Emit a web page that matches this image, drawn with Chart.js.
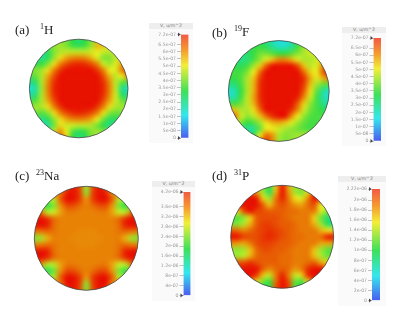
<!DOCTYPE html>
<html>
<head>
<meta charset="utf-8">
<script src="https://cdn.jsdelivr.net/npm/chart.js@4"></script>
<style>
  html, body { margin: 0; padding: 0; background: #fff; }
  #page { position: relative; width: 400px; height: 317px; overflow: hidden; filter: blur(0.45px); }
  canvas { position: absolute; }
  .tag { position: absolute; font: 13px "Liberation Serif", serif; line-height: 15px; color: #222; white-space: nowrap; }
  .tag sup { font-size: 8px; line-height: 0; vertical-align: 5px; }
  .box { position: absolute; background: #fafafa; }
  .band { background: #eeeeee; height: 6px; font: 4.6px "DejaVu Sans", sans-serif; line-height: 6px; color: #777; text-align: center; }
</style>
</head>
<body>
<div id="page"></div>
<script>
// field values in % of each panel's colour scale, rows top to bottom
const fieldA = [
  [62,62,62,62,62,60,55,45,40,45,55,70,78,70,62,62,62],
  [50,50,48,50,58,60,55,47,42,47,58,78,75,68,62,62,62],
  [40,40,36,42,56,62,64,64,64,64,66,70,66,64,66,70,70],
  [40,36,34,42,58,72,80,84,85,84,78,68,56,56,64,72,75],
  [48,46,46,56,72,85,92,96,97,96,92,85,66,60,68,80,84],
  [58,56,60,72,85,95,100,100,100,100,100,95,85,70,68,86,92],
  [50,52,62,80,92,100,100,100,100,100,100,100,92,78,64,70,84],
  [34,40,62,84,96,100,100,100,100,100,100,100,96,84,64,52,50],
  [26,32,60,85,97,100,100,100,100,100,100,100,97,85,64,36,28],
  [30,38,62,84,96,100,100,100,100,100,100,100,96,84,66,42,34],
  [48,50,62,80,92,100,100,100,100,100,100,100,92,80,66,54,50],
  [60,60,62,72,85,95,100,100,100,100,100,95,85,72,62,60,60],
  [56,54,50,56,72,85,92,96,97,96,92,85,72,56,52,54,56],
  [48,42,36,42,58,72,80,84,85,84,80,70,54,42,42,48,52],
  [42,34,28,32,54,72,66,66,64,64,62,54,44,36,38,46,50],
  [50,44,42,48,66,84,70,50,42,46,56,60,56,52,52,52,52],
  [55,50,50,54,70,88,74,46,38,42,56,62,58,54,52,52,52]
];
const fieldB = [
  [42,42,42,42,42,42,38,30,24,24,30,42,60,66,60,55,55],
  [42,42,42,42,46,46,42,34,28,28,34,48,60,66,62,58,58],
  [40,40,38,40,46,54,54,50,46,46,50,56,62,66,62,58,60],
  [40,38,36,38,48,58,68,76,84,84,78,68,62,62,66,74,78],
  [46,44,42,48,60,74,90,100,100,100,100,92,76,64,68,84,92],
  [50,48,48,56,70,88,100,100,100,100,100,100,88,74,70,90,100],
  [46,46,50,62,76,94,100,100,100,100,100,100,96,80,68,78,85],
  [36,38,48,62,78,96,100,100,100,100,100,100,94,76,60,52,50],
  [26,30,46,62,78,96,100,100,100,100,100,100,90,72,52,34,26],
  [28,32,48,64,80,96,100,100,100,100,100,98,84,66,48,32,26],
  [50,48,54,64,78,94,100,100,100,100,100,90,74,58,48,36,32],
  [78,76,62,62,72,88,100,100,100,100,96,84,66,54,48,44,42],
  [90,88,66,58,64,76,88,96,100,100,84,70,58,50,48,50,50],
  [70,68,56,46,50,60,72,78,80,76,68,60,52,48,48,50,50],
  [50,48,42,34,34,52,70,70,66,62,58,54,50,48,50,50,50],
  [50,50,44,36,44,70,88,82,62,56,58,60,62,62,60,60,60],
  [50,50,50,50,60,84,96,84,60,56,58,62,64,64,60,60,60]
];
const fieldC = [
  [88,88,88,88,88,92,100,92,60,92,100,92,88,88,88,88,88],
  [92,92,92,88,86,98,100,94,58,94,100,98,84,88,92,92,92],
  [70,68,56,64,90,100,100,94,82,94,100,100,90,64,56,68,70],
  [72,60,46,56,82,92,92,88,85,88,92,92,82,56,46,60,72],
  [96,88,64,66,80,86,86,85,85,85,86,86,80,66,64,88,96],
  [100,100,96,88,85,85,85,85,85,85,85,85,85,88,96,100,100],
  [100,100,98,88,85,85,85,85,85,85,85,85,85,88,98,100,100],
  [86,86,88,87,85,85,85,84,84,84,85,85,85,87,88,86,86],
  [56,60,78,85,85,85,84,84,84,84,84,85,85,85,78,60,56],
  [86,86,88,87,85,85,85,84,84,84,85,85,85,87,88,86,86],
  [100,100,98,88,85,85,85,85,85,85,85,85,85,88,98,100,100],
  [100,100,96,88,85,85,85,85,85,85,85,85,85,88,96,100,100],
  [92,84,62,64,80,86,86,85,85,85,86,86,80,66,64,88,96],
  [62,54,42,54,82,92,92,88,85,88,92,92,82,56,46,60,70],
  [68,64,54,62,90,100,100,94,82,94,100,100,90,64,56,68,70],
  [92,92,92,88,86,100,100,94,58,94,100,100,84,88,92,92,92],
  [88,88,88,88,88,94,100,92,56,92,100,94,88,88,88,88,88]
];
const fieldD = [
  [90,90,90,90,80,60,44,74,100,78,60,66,80,85,90,90,90],
  [90,90,90,92,80,60,42,78,100,82,60,54,72,98,92,90,90],
  [94,96,100,100,98,74,60,86,98,86,72,68,84,100,96,90,90],
  [100,100,100,100,100,90,76,88,92,88,82,80,88,92,70,64,60],
  [70,72,92,100,94,92,90,90,90,88,88,86,86,86,68,58,58],
  [50,50,58,74,90,92,92,92,90,88,86,86,86,74,54,40,34],
  [56,56,62,78,90,94,94,92,90,90,88,86,86,78,60,42,36],
  [90,88,84,88,92,94,96,94,92,90,88,86,86,86,78,72,72],
  [100,100,94,92,92,95,97,95,92,90,88,88,86,86,88,98,100],
  [84,82,80,86,92,94,94,92,90,90,88,86,86,86,80,80,80],
  [60,58,60,76,88,92,92,90,90,88,86,86,86,76,60,52,50],
  [62,60,64,78,88,90,90,90,88,88,86,86,86,76,62,54,52],
  [94,92,92,96,92,90,90,90,88,88,86,86,88,90,80,74,72],
  [100,100,100,100,100,90,84,88,90,88,82,86,96,100,100,96,90],
  [90,92,100,100,94,76,64,86,98,86,64,74,96,100,100,96,92],
  [92,92,90,88,72,54,46,88,100,92,52,48,72,94,94,92,92],
  [90,90,90,80,60,44,46,92,100,94,50,44,60,80,90,90,90]
];

const barLabelsAB = ["7.2e-07","6.5e-07","6e-07","5.5e-07","5e-07","4.5e-07","4e-07","3.5e-07","3e-07","2.5e-07","2e-07","1.5e-07","1e-07","5e-08","0"];
const barLabelsC = ["4.2e-06","3.6e-06","3.2e-06","2.8e-06","2.4e-06","2e-06","1.6e-06","1.2e-06","8e-07","4e-07","0"];
const barLabelsD = ["2.22e-06","2e-06","1.8e-06","1.6e-06","1.4e-06","1.2e-06","1e-06","8e-07","6e-07","4e-07","2e-07","0"];

const unitText = "V, u/m^2";

// colour map of the field, value 0..1 to rgb
const colourStops = [
  [0, [64, 80, 240]],
  [0.22, [30, 225, 235]],
  [0.45, [45, 220, 70]],
  [0.7, [235, 235, 30]],
  [0.85, [232, 130, 5]],
  [1, [232, 18, 0]]
];
const barStops = [
  [0, "#4a5cf0"], [0.22, "#35e6ee"], [0.45, "#3fe05a"],
  [0.7, "#f2ee3a"], [0.85, "#f59a30"], [1, "#f25a44"]
];

function colourAt(v) {
  for (let i = 1; i < colourStops.length; i++) {
    const [p1, c1] = colourStops[i];
    if (v <= p1) {
      const [p0, c0] = colourStops[i - 1];
      const t = (v - p0) / (p1 - p0);
      return c0.map((c, k) => Math.round(c + (c1[k] - c) * t));
    }
  }
  return colourStops[colourStops.length - 1][1];
}

// paints the dataset cells as a smoothed image clipped to the sample circle
const fieldPlugin = {
  id: "fieldPlugin",
  afterDatasetsDraw(chart) {
    const { ctx, scales } = chart;
    const cells = chart.data.datasets[0].data;
    const small = document.createElement("canvas");
    small.width = 17;
    small.height = 17;
    const sctx = small.getContext("2d");
    const img = sctx.createImageData(17, 17);
    cells.forEach((c) => {
      const at = ((c.y + 8) * 17 + (c.x + 8)) * 4;
      const rgb = colourAt(c.v / 100);
      img.data[at] = rgb[0];
      img.data[at + 1] = rgb[1];
      img.data[at + 2] = rgb[2];
      img.data[at + 3] = 255;
    });
    sctx.putImageData(img, 0, 0);

    const x0 = scales.x.getPixelForValue(-8.5);
    const x1 = scales.x.getPixelForValue(8.5);
    const y0 = scales.y.getPixelForValue(-8.5);
    const y1 = scales.y.getPixelForValue(8.5);
    const cx = scales.x.getPixelForValue(0);
    const cy = scales.y.getPixelForValue(0);
    const r = scales.x.getPixelForValue(8) - cx;

    ctx.save();
    ctx.beginPath();
    ctx.arc(cx, cy, r, 0, Math.PI * 2);
    ctx.clip();
    ctx.imageSmoothingEnabled = true;
    ctx.imageSmoothingQuality = "high";
    ctx.filter = "blur(1.2px)";
    ctx.drawImage(small, x0, y0, x1 - x0, y1 - y0);
    ctx.filter = "none";
    ctx.restore();

    ctx.beginPath();
    ctx.arc(cx, cy, r, 0, Math.PI * 2);
    ctx.strokeStyle = "#444";
    ctx.lineWidth = 0.8;
    ctx.stroke();
  },
};

// small arrows at the two ends of the colour bar
const arrowPlugin = {
  id: "arrowPlugin",
  afterDraw(chart) {
    const { ctx, chartArea, scales } = chart;
    const ends = [scales.y.max, 0];
    ctx.save();
    ctx.fillStyle = "#444";
    ends.forEach((v) => {
      const y = scales.y.getPixelForValue(v);
      ctx.beginPath();
      ctx.moveTo(chartArea.left - 3, y - 2);
      ctx.lineTo(chartArea.left - 0.5, y);
      ctx.lineTo(chartArea.left - 3, y + 2);
      ctx.closePath();
      ctx.fill();
    });
    ctx.restore();
  },
};

const page = document.getElementById("page");

function addCanvas(left, top, width, height) {
  const canvas = document.createElement("canvas");
  canvas.width = width;
  canvas.height = height;
  canvas.style.left = left + "px";
  canvas.style.top = top + "px";
  page.appendChild(canvas);
  return canvas;
}

function drawField(field, cx, cy, r) {
  const left = Math.floor(cx - r - 2);
  const top = Math.floor(cy - r - 2);
  const width = Math.ceil(2 * r + 5);
  const height = Math.ceil(2 * r + 5);
  const canvas = addCanvas(left, top, width, height);
  const cells = [];
  field.forEach((row, j) => row.forEach((v, i) => cells.push({ x: i - 8, y: j - 8, v })));
  new Chart(canvas, {
    type: "scatter",
    data: { datasets: [{ data: cells, pointRadius: 0 }] },
    options: {
      responsive: false,
      animation: false,
      layout: {
        padding: {
          left: cx - r - left,
          top: cy - r - top,
          right: left + width - cx - r,
          bottom: top + height - cy - r,
        },
      },
      plugins: { legend: { display: false }, tooltip: { enabled: false } },
      scales: {
        x: { display: false, min: -8, max: 8 },
        y: { display: false, min: -8, max: 8, reverse: true },
      },
    },
    plugins: [fieldPlugin],
  });
}

function drawBar(labels, max, box, bar) {
  const wrap = document.createElement("div");
  wrap.className = "box";
  wrap.style.left = box.left + "px";
  wrap.style.top = box.top + "px";
  wrap.style.width = box.right - box.left + "px";
  wrap.style.height = box.bottom - box.top + "px";
  const band = document.createElement("div");
  band.className = "band";
  band.textContent = unitText;
  wrap.appendChild(band);
  page.appendChild(wrap);

  const canvas = addCanvas(box.left, box.top, box.right - box.left, box.bottom - box.top);
  const values = labels.map((l) => (l === labels[0] ? max : parseFloat(l)));
  new Chart(canvas, {
    type: "bar",
    data: {
      labels: [""],
      datasets: [
        {
          data: [[0, max]],
          barPercentage: 1,
          categoryPercentage: 1,
          backgroundColor: (context) => {
            const area = context.chart.chartArea;
            if (!area) return "#888";
            const g = context.chart.ctx.createLinearGradient(0, area.bottom, 0, area.top);
            barStops.forEach(([p, c]) => g.addColorStop(p, c));
            return g;
          },
        },
      ],
    },
    options: {
      responsive: false,
      animation: false,
      layout: {
        padding: { left: 0, top: bar.top - box.top, right: box.right - bar.right, bottom: box.bottom - bar.bottom },
      },
      plugins: { legend: { display: false }, tooltip: { enabled: false } },
      scales: {
        x: { display: false },
        y: {
          min: 0,
          max: max,
          border: { display: false },
          grid: { drawOnChartArea: false, tickLength: 4, tickColor: "#aaa", tickWidth: 0.7 },
          afterBuildTicks: (axis) => {
            axis.ticks = values.map((v) => ({ value: v }));
          },
          afterFit: (axis) => {
            axis.width = bar.left - box.left;
          },
          ticks: {
            autoSkip: false,
            padding: 1,
            color: "#999",
            font: { family: "DejaVu Sans", size: 4.6 },
            callback: (v) => labels[values.indexOf(v)],
          },
        },
      },
    },
    plugins: [arrowPlugin],
  });
}

function addTag(left, baseline, html) {
  const tag = document.createElement("div");
  tag.className = "tag";
  tag.style.left = left + "px";
  tag.style.top = baseline - 12 + "px";
  tag.innerHTML = html;
  page.appendChild(tag);
}

drawField(fieldA, 78.7, 88.5, 49.3);
drawField(fieldB, 278.8, 91, 50.4);
drawField(fieldC, 86.3, 238.3, 52);
drawField(fieldD, 282.2, 236.8, 51.5);

drawBar(barLabelsAB, 7.2e-7, { left: 149, top: 23, right: 193, bottom: 143 }, { left: 181, top: 34.5, right: 188.5, bottom: 138 });
drawBar(barLabelsAB, 7.2e-7, { left: 342, top: 27, right: 386, bottom: 146 }, { left: 373.5, top: 38, right: 381, bottom: 141 });
drawBar(barLabelsC, 4.2e-6, { left: 152, top: 181, right: 195, bottom: 301 }, { left: 183.5, top: 192, right: 190.5, bottom: 295.5 });
drawBar(barLabelsD, 2.22e-6, { left: 338, top: 176, right: 386, bottom: 306 }, { left: 372, top: 189, right: 380, bottom: 300.5 });

addTag(15, 34, "(a)");
addTag(40, 34, "<sup>1</sup>H");
addTag(212, 37, "(b)");
addTag(234, 36, "<sup>19</sup>F");
addTag(15, 180, "(c)");
addTag(36, 180, "<sup>23</sup>Na");
addTag(212, 180, "(d)");
addTag(234, 180, "<sup>31</sup>P");
</script>
</body>
</html>
